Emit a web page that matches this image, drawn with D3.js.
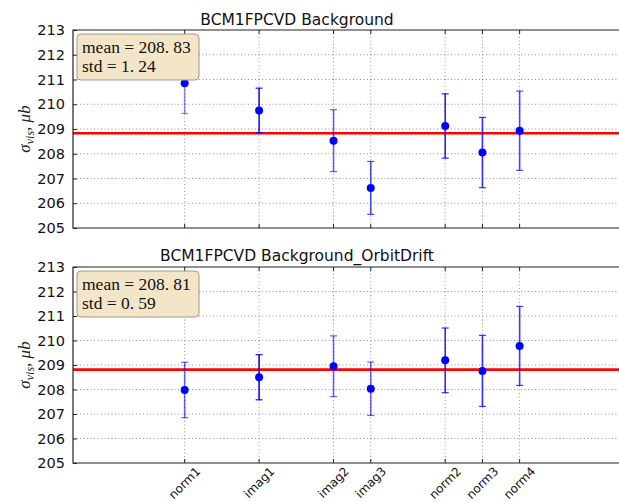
<!DOCTYPE html>
<html>
<head>
<meta charset="utf-8">
<script src="https://cdn.jsdelivr.net/npm/d3@7"></script>
<style>
  html, body { margin: 0; padding: 0; background: #fff; }
  svg { display: block; }
</style>
</head>
<body>
<svg id="chart" width="619" height="502"></svg>
<script>
// Scan names and their positions along the x axis
const scans = ["norm1", "imag1", "imag2", "imag3", "norm2", "norm3", "norm4"];
const scanX = [0, 2, 4, 5, 7, 8, 9];

// Background correction: sigma_vis per scan and its uncertainty (μb)
const bgValues = [210.85, 209.75, 208.53, 206.62, 209.12, 208.05, 208.93];
const bgErrors = [1.22, 0.90, 1.25, 1.07, 1.30, 1.42, 1.60];
const bgMean = 208.83;
const bgStd = 1.24;

// Background + orbit drift correction
const odValues = [207.98, 208.50, 208.95, 208.03, 209.19, 208.76, 209.78];
const odErrors = [1.13, 0.92, 1.24, 1.09, 1.32, 1.45, 1.61];
const odMean = 208.81;
const odStd = 0.59;

const yTicks = [205, 206, 207, 208, 209, 210, 211, 212, 213];

const svg = d3.select("#chart");

const left = 73;
const unit = 37.22;
const x = d3.scaleLinear().domain([-3, 15]).range([left, left + 18 * unit]);

const panels = [
  { title: "BCM1FPCVD Background", values: bgValues, errors: bgErrors,
    mean: bgMean, std: bgStd, top: 30, bottom: 228, titleY: 25, labels: false,
    alpha: [0.45, 0.9, 0.6, 0.7, 0.85, 0.8, 0.7] },
  { title: "BCM1FPCVD Background_OrbitDrift", values: odValues, errors: odErrors,
    mean: odMean, std: odStd, top: 267, bottom: 463, titleY: 261, labels: true,
    alpha: [0.6, 0.95, 0.6, 0.6, 0.8, 0.8, 0.75] }
];

const sans = "DejaVu Sans, sans-serif";
const serif = "Liberation Serif, DejaVu Serif, serif";

function fmt(v) { return v.toFixed(2); }

panels.forEach(p => {
  const y = d3.scaleLinear().domain([205, 213]).range([p.bottom, p.top]);
  const g = svg.append("g");
  const right = 619 + 20;

  // grid
  g.append("g").selectAll("line.h").data(yTicks.slice(1, -1)).join("line")
    .attr("x1", left).attr("x2", right)
    .attr("y1", d => y(d)).attr("y2", d => y(d))
    .attr("stroke", "#000").attr("stroke-width", 0.7)
    .attr("stroke-dasharray", "1,2.5").attr("opacity", 0.6);
  g.append("g").selectAll("line.v").data(scanX).join("line")
    .attr("x1", d => x(d)).attr("x2", d => x(d))
    .attr("y1", p.top).attr("y2", p.bottom)
    .attr("stroke", "#000").attr("stroke-width", 0.7)
    .attr("stroke-dasharray", "1,2.5").attr("opacity", 0.6);

  // mean line
  g.append("line")
    .attr("x1", left).attr("x2", right)
    .attr("y1", y(p.mean)).attr("y2", y(p.mean))
    .attr("stroke", "#ff0000").attr("stroke-width", 2.6);

  // error bars
  const eb = g.append("g").selectAll("g").data(p.values.map((v, i) => ({
    x: scanX[i], v, e: p.errors[i], a: p.alpha[i] }))).join("g")
    .attr("stroke", "#0000ff").attr("stroke-opacity", d => d.a);
  eb.append("line")
    .attr("x1", d => x(d.x)).attr("x2", d => x(d.x))
    .attr("y1", d => y(d.v - d.e)).attr("y2", d => y(d.v + d.e))
    .attr("stroke-width", 1.6);
  eb.append("line")
    .attr("x1", d => x(d.x) - 3.5).attr("x2", d => x(d.x) + 3.5)
    .attr("y1", d => y(d.v + d.e)).attr("y2", d => y(d.v + d.e))
    .attr("stroke-width", 1.2);
  eb.append("line")
    .attr("x1", d => x(d.x) - 3.5).attr("x2", d => x(d.x) + 3.5)
    .attr("y1", d => y(d.v - d.e)).attr("y2", d => y(d.v - d.e))
    .attr("stroke-width", 1.2);

  // points
  g.append("g").selectAll("circle").data(p.values).join("circle")
    .attr("cx", (d, i) => x(scanX[i])).attr("cy", d => y(d))
    .attr("r", 4).attr("fill", "#0000ff");

  // frame
  g.append("path")
    .attr("d", `M${right},${p.top}H${left}V${p.bottom}H${right}`)
    .attr("fill", "none").attr("stroke", "#222").attr("stroke-width", 1.2);

  // y axis ticks and labels
  const ya = g.append("g").attr("transform", `translate(${left},0)`)
    .call(d3.axisLeft(y).tickValues(yTicks).tickSizeInner(-4).tickSizeOuter(0).tickPadding(8));
  ya.select(".domain").remove();
  ya.selectAll("line").attr("stroke", "#222");
  ya.selectAll("text").attr("font-family", sans).attr("font-size", 14.5).attr("fill", "#111");

  // x ticks (inward, top and bottom)
  g.append("g").selectAll("line").data(scanX).join("line")
    .attr("x1", d => x(d)).attr("x2", d => x(d))
    .attr("y1", p.bottom).attr("y2", p.bottom - 4).attr("stroke", "#222");
  g.append("g").selectAll("line").data(scanX).join("line")
    .attr("x1", d => x(d)).attr("x2", d => x(d))
    .attr("y1", p.top).attr("y2", p.top + 4).attr("stroke", "#222");

  // x tick labels, rotated 45°
  if (p.labels) {
    g.append("g").selectAll("text").data(scans).join("text")
      .attr("font-family", sans).attr("font-size", 12).attr("fill", "#111")
      .attr("text-anchor", "middle").attr("dominant-baseline", "central")
      .text(d => d)
      .each(function(d, i) {
        const w = this.getComputedTextLength();
        const h = 12;
        const half = (w + h) / Math.SQRT2 / 2;
        const cx = x(scanX[i]);
        const cy = p.bottom + 2 + half;
        d3.select(this).attr("transform", `translate(${cx},${cy}) rotate(-45)`);
      });
  }

  // title
  g.append("text").attr("x", 297).attr("y", p.titleY)
    .attr("text-anchor", "middle").attr("font-family", sans)
    .attr("font-size", 15.5).attr("fill", "#111").text(p.title);

  // y axis label
  const mid = (p.top + p.bottom) / 2;
  const yl = g.append("text")
    .attr("transform", `translate(30,${mid}) rotate(-90)`)
    .attr("text-anchor", "middle").attr("font-family", serif)
    .attr("font-size", 17).attr("fill", "#222");
  yl.append("tspan").attr("font-style", "italic").text("σ");
  yl.append("tspan").attr("font-style", "italic").attr("font-size", 12)
    .attr("dy", 4).text("vis");
  yl.append("tspan").attr("dy", -4).text(", ");
  yl.append("tspan").attr("font-style", "italic").text("μb");

  // stats box
  const bx = g.append("g");
  bx.append("rect")
    .attr("x", 77).attr("y", p.top + 4).attr("width", 122).attr("height", 46)
    .attr("rx", 4).attr("fill", "#f3e5c8").attr("stroke", "#a39a86").attr("stroke-width", 1);
  const lines = [["mean", p.mean], ["std", p.std]];
  lines.forEach((l, k) => {
    const s = fmt(l[1]).split(".");
    const t = bx.append("text").attr("x", 82).attr("y", p.top + 23 + k * 19)
      .attr("font-family", serif).attr("font-size", 17.5).attr("fill", "#111");
    t.append("tspan").text(l[0] + " = " + s[0] + ".");
    t.append("tspan").attr("dx", 4).text(s[1]);
  });
});
</script>
</body>
</html>
